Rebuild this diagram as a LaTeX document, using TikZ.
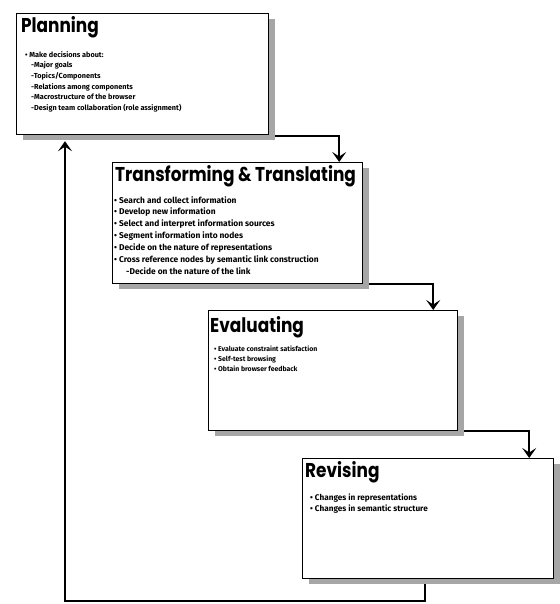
\documentclass[tikz,border=0pt]{standalone}
\usepackage{fontspec}
\setmainfont{Fira Sans}
\newfontfamily\titlefont[FakeStretch=0.845]{Poppins Bold}
\usetikzlibrary{arrows.meta,shadows,positioning}
\tikzset{
  x=1pt,y=-1pt,
  stagebox/.style={draw=black, line width=1.2pt, fill=white, anchor=north west, inner sep=0pt,
    drop shadow={shadow xshift=6pt, shadow yshift=-5pt, fill=black!35, opacity=1}},
  stagetitle/.style={anchor=base west, inner sep=0pt, font=\titlefont\fontsize{20}{22}\selectfont},
  stagebody/.style 2 args={anchor=north west, inner sep=0pt, align=left, font=\bfseries\fontsize{#1}{#2}\selectfont},
  flow/.style={line width=1.7pt, -{Stealth[length=10pt, width=14pt, inset=4.5pt]}},
}
\begin{document}
\begin{tikzpicture}
\useasboundingbox (0,0) rectangle (559,604);
% boxes
\node[stagebox, minimum width=252pt, minimum height=121pt] (plan) at (16,13) {};
\node[stagebox, minimum width=250pt, minimum height=121pt] (trans) at (112,162) {};
\node[stagebox, minimum width=249pt, minimum height=120pt] (eval) at (208,310) {};
\node[stagebox, minimum width=251pt, minimum height=120pt] (rev) at (302,458) {};
% titles
\node[stagetitle] (plant) at (21,33) {Planning};
\node[stagetitle] (transt) at (115,182) {Transforming \& Translating};
\node[stagetitle] (evalt) at (210,332) {Evaluating};
\node[stagetitle] (revt) at (305,477) {Revising};
% bodies
\node[stagebody={7.3}{10.7}] (planb) at (25,51) {• Make decisions about:\\
\hspace{6pt}-Major goals\\
\hspace{6pt}-Topics/Components\\
\hspace{6pt}-Relations among components\\
\hspace{6pt}-Macrostructure of the browser\\
\hspace{6pt}-Design team collaboration (role assignment)};
\node[stagebody={8.4}{11.9}] (transb) at (114,196) {• Search and collect information\\
• Develop new information\\
• Select and interpret information sources\\
• Segment information into nodes\\
• Decide on the nature of representations\\
• Cross reference nodes by semantic link construction\\
\hspace{12pt}-Decide on the nature of the link};
\node[stagebody={6.9}{10}] (evalb) at (214,346) {• Evaluate constraint satisfaction\\
• Self-test browsing\\
• Obtain browser feedback};
\node[stagebody={8.2}{10.5}] (revb) at (310,494) {• Changes in representations\\
• Changes in semantic structure};
% connectors
\draw[flow] ([xshift=6pt,yshift=-1pt]plan.south east) -| ([xshift=-24pt]trans.north east);
\draw[flow] ([xshift=6pt]trans.south east) -| ([xshift=-25pt]eval.north east);
\draw[flow] ([xshift=6pt]eval.south east) -| ([xshift=-25pt]rev.north east);
\coordinate (c1) at (425,601);
\coordinate (c2) at (65,601);
\draw[flow] ([xshift=123pt,yshift=-5pt]rev.south west) -- (c1) -- (c2) -- ([xshift=49pt,yshift=-6pt]plan.south west);
\end{tikzpicture}
\end{document}
